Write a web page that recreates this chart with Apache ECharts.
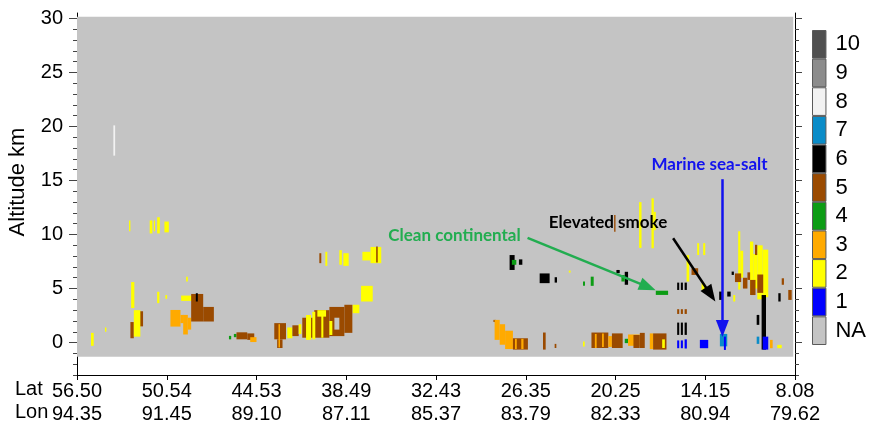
<!DOCTYPE html>
<html><head><meta charset="utf-8">
<script src="https://cdn.jsdelivr.net/npm/echarts@6/dist/echarts.min.js"></script>
<style>html,body{margin:0;padding:0;background:#fff}#c{width:869px;height:428px}</style>
</head><body><div id="c"></div>
<script>
// ---- data ----
const latLabels = ['56.50','50.54','44.53','38.49','32.43','26.35','20.25','14.15','8.08'];
const lonLabels = ['94.35','91.45','89.10','87.11','85.37','83.79','82.33','80.94','79.62'];
const altTicks = [0,5,10,15,20,25,30];
const classNames = ['NA','1','2','3','4','5','6','7','8','9','10'];
const classColors = ['#c4c4c4','#0000ff','#ffff00','#ffaa00','#0c9c14','#9a4a00','#000000','#0a8cc8','#f2f2f2','#8c8c8c','#505050'];
// NA curtain extent: [x0, x1, alt0, alt1, class]
const curtainNA = [[0, 7.98, -1.3, 30.15, 0]];
// aerosol layers: [x0, x1, alt0 (km), alt1 (km), class]
const aerosolLayers = [
[0.405,0.425,17.3,20.1,8],
[0.58,0.595,10.3,11.3,2],[0.81,0.84,10.1,11.3,2],[0.856,0.87,10.3,11.3,2],[0.893,0.923,10.1,11.6,2],[0.974,1.023,10.2,11.2,2],
[0.156,0.186,-0.3,0.9,2],[0.312,0.327,1.0,1.4,2],[0.603,0.639,3.2,5.6,2],
[0.595,0.633,0.4,1.9,5],[0.688,0.736,1.5,2.9,5],[0.633,0.706,0.55,3.0,2],
[0.893,0.918,3.65,4.7,2],[0.985,1.004,4.05,4.4,2],[1.216,1.235,5.65,6.1,2],[1.16,1.283,3.86,4.35,2],
[1.041,1.153,1.48,3.02,3],[1.153,1.19,1.8,2.56,3],[1.183,1.235,0.75,2.56,3],[1.235,1.272,1.2,2.3,3],
[1.272,1.406,1.95,4.5,5],[1.406,1.525,1.95,3.3,5],[1.324,1.346,3.8,4.57,6],
[1.693,1.718,0.3,0.62,4],[1.748,1.777,0.5,0.8,4],[1.777,1.897,0.3,0.95,5],[1.897,1.975,0.25,0.85,5],[1.93,2.0,0.05,0.5,3],
[2.70,2.722,7.35,8.27,5],[2.767,2.789,7.1,8.4,2],[2.923,2.951,7.2,8.55,2],[2.968,3.027,7.1,8.27,2],
[3.18,3.27,7.6,8.4,2],[3.27,3.39,7.35,8.85,2],[3.333,3.351,7.4,8.9,5],
[3.165,3.295,3.8,5.25,2],[3.07,3.146,2.72,3.5,2],
[2.198,2.329,0.3,1.8,5],[2.23,2.29,-0.5,0.3,5],[2.245,2.262,-0.45,1.7,3],
[2.343,2.40,0.4,1.4,2],[2.40,2.47,0.6,1.6,5],[2.47,2.50,0.8,1.7,2],
[2.51,2.644,0.45,2.3,5],[2.644,2.812,0.45,3.0,5],[2.812,2.979,0.6,3.3,5],[2.979,3.068,0.9,3.5,5],
[2.552,2.608,0.25,2.55,2],[2.622,2.655,0.3,2.85,2],[2.722,2.745,0.45,2.85,2],[2.812,2.845,0.7,2.0,2],[2.678,2.775,2.4,3.0,2],
[2.868,2.923,1.2,2.3,0],
[4.82,4.876,6.72,8.1,6],[4.845,4.895,7.2,7.65,4],[4.924,4.962,7.2,7.7,6],
[5.155,5.266,5.5,6.4,6],[5.322,5.348,5.55,6.05,6],[5.48,5.5,6.48,6.66,2],
[5.638,5.66,5.25,5.65,4],[5.724,5.757,5.25,6.1,4],
[6.01,6.047,6.42,6.72,6],[6.103,6.14,5.35,6.55,6],[6.066,6.103,5.65,6.25,4],
[4.64,4.67,1.9,2.1,5],[4.653,4.71,0.25,2.1,3],[4.71,4.77,-0.2,1.7,3],[4.77,4.857,-0.6,1.1,3],
[4.857,5.024,-0.65,0.4,5],[4.88,4.90,-0.6,0.35,3],[4.95,4.975,-0.6,0.35,3],
[5.192,5.222,-0.65,0.93,5],[5.322,5.341,-0.5,-0.12,5],[5.638,5.657,-0.37,0.1,2],
[5.732,5.92,-0.5,0.93,5],[5.77,5.79,-0.5,0.8,3],[5.85,5.87,-0.4,0.85,3],[5.92,5.96,-0.4,0.6,3],
[5.96,6.08,-0.5,0.85,5],[6.103,6.14,-0.05,0.35,4],[6.14,6.27,-0.3,0.75,3],[6.2,6.27,-0.5,0.7,5],
[6.271,6.326,-0.5,0.9,5],[6.382,6.419,-0.6,0.85,3],[6.419,6.568,-0.65,0.85,5],[6.52,6.55,-0.5,0.3,2],
[6.449,6.586,4.41,4.8,4],
[6.687,6.71,4.87,5.55,6],[6.728,6.751,4.87,5.55,6],[6.77,6.795,4.87,5.55,6],
[6.687,6.71,2.65,3.09,5],[6.728,6.751,2.65,3.09,5],[6.77,6.795,2.65,3.09,5],
[6.687,6.71,0.71,1.85,6],[6.728,6.751,0.71,1.85,6],[6.77,6.795,0.71,1.85,6],
[6.687,6.71,-0.52,0.2,1],[6.728,6.751,-0.52,0.2,1],[6.77,6.795,-0.55,0.3,1],
[6.94,7.033,-0.52,0.25,1],
[6.263,6.29,8.76,13.0,2],[6.401,6.427,8.73,13.35,2],[6.427,6.449,10.4,12.1,2],[5.985,6.0,10.25,11.8,5],
[6.91,6.932,8.1,9.2,2],[6.977,7.0,8.1,9.2,2],[6.792,6.821,5.65,8.1,2],[6.847,6.921,6.26,6.88,5],[6.959,6.996,4.87,5.5,2],
[7.155,7.193,3.95,4.72,6],[7.245,7.283,4.26,4.72,6],[7.312,7.334,3.8,4.4,2],
[7.163,7.245,-0.35,0.8,7],[7.208,7.23,-0.68,0.55,1],[7.294,7.319,6.26,6.57,6],
[7.367,7.39,4.9,10.3,2],[7.39,7.423,6.0,8.5,2],
[7.498,7.535,4.5,9.35,2],[7.535,7.58,5.0,8.2,2],[7.58,7.64,4.0,9.0,2],[7.64,7.702,4.2,8.6,2],
[7.554,7.579,8.1,9.05,5],
[7.331,7.40,5.6,6.4,5],[7.42,7.47,5.0,6.0,5],[7.50,7.56,4.4,5.8,5],[7.58,7.646,4.6,6.3,5],[7.47,7.50,5.8,6.5,5],
[7.628,7.677,-0.65,4.4,6],[7.573,7.602,1.64,2.56,6],[7.573,7.602,-0.12,0.55,7],[7.64,7.702,-0.65,0.55,1],
[7.721,7.751,-0.52,0.25,3],[7.802,7.852,-0.52,-0.21,2],[7.852,7.877,5.35,5.95,5],[7.814,7.84,3.8,4.57,6],[7.925,7.963,3.95,4.87,5]
];
// annotations: [text, x, alt, color]
const annoTexts = [
  ['Clean continental', 4.206, 9.87, '#22ad50'],
  ['Elevated smoke', 5.917, 11.12, '#000000'],
  ['Marine sea-salt', 7.048, 16.51, '#1212ee']
];
// arrows: [x0, alt0, x1, alt1, color]
const annoArrows = [
  [5.02, 9.69, 6.36, 5.15, '#22ad50'],
  [6.642, 9.66, 7.06, 4.45, '#000000'],
  [7.191, 15.12, 7.191, 1.3, '#1212ee']
];

// ---- chart ----
const FONT = '"Liberation Sans", Arial, sans-serif';
const minorTicks = [];
for (let v = -3; v <= 30; v++) minorTicks.push(v);

function rectItem(params, api) {
  const p0 = api.coord([api.value(0), api.value(3)]);
  const p1 = api.coord([api.value(1), api.value(2)]);
  return {
    type: 'rect',
    shape: { x: p0[0], y: p0[1], width: Math.max(p1[0] - p0[0], 1), height: Math.max(p1[1] - p0[1], 1) },
    style: { fill: classColors[api.value(4)] }
  };
}

const altAxisBase = { type: 'value', gridIndex: 0, min: -3, max: 30.5, splitLine: { show: false } };

const chart = echarts.init(document.getElementById('c'), null, { renderer: 'canvas' });
chart.setOption({
  animation: false,
  backgroundColor: '#ffffff',
  grid: [
    { left: 77, right: 74, top: 13, bottom: 53 },
    { left: 812, top: 30, width: 17, height: 315 }
  ],
  xAxis: [
    {
      type: 'value', gridIndex: 0, min: 0, max: 8, interval: 1,
      axisLine: { onZero: false, lineStyle: { color: '#000', width: 1 } },
      axisTick: { length: 5, lineStyle: { color: '#000' } },
      splitLine: { show: false },
      axisLabel: {
        margin: 5, fontSize: 20, lineHeight: 23, color: '#000', fontFamily: FONT,
        formatter: v => latLabels[Math.round(v)] + '\n' + lonLabels[Math.round(v)]
      }
    },
    { type: 'value', gridIndex: 1, min: 0, max: 1, show: false }
  ],
  yAxis: [
    Object.assign({}, altAxisBase, {
      position: 'left',
      axisLine: { show: true, onZero: false, lineStyle: { color: '#000' } },
      axisTick: { show: true, length: 8, customValues: altTicks, lineStyle: { color: '#444' } },
      axisLabel: { customValues: altTicks, fontSize: 20, color: '#000', margin: 14, fontFamily: FONT }
    }),
    Object.assign({}, altAxisBase, {
      position: 'left',
      axisLine: { show: false, onZero: false },
      axisTick: { show: true, length: 4, customValues: minorTicks, lineStyle: { color: '#444' } },
      axisLabel: { show: false }
    }),
    Object.assign({}, altAxisBase, {
      position: 'right',
      axisLine: { show: true, onZero: false, lineStyle: { color: '#000' } },
      axisTick: { show: true, length: 7, customValues: altTicks, lineStyle: { color: '#444' } },
      axisLabel: { show: false }
    }),
    Object.assign({}, altAxisBase, {
      position: 'right',
      axisLine: { show: false, onZero: false },
      axisTick: { show: true, length: 4, customValues: minorTicks, lineStyle: { color: '#444' } },
      axisLabel: { show: false }
    }),
    {
      type: 'category', gridIndex: 1, data: classNames, position: 'right',
      axisLine: { show: false }, axisTick: { show: false },
      axisLabel: { fontSize: 22, color: '#000', margin: 9, fontFamily: FONT }
    }
  ],
  series: [
    {
      type: 'custom', name: 'NA', xAxisIndex: 0, yAxisIndex: 0, z: 1,
      renderItem: rectItem, encode: { x: [0, 1], y: [2, 3] }, data: curtainNA, silent: true
    },
    {
      type: 'custom', name: 'aerosol', xAxisIndex: 0, yAxisIndex: 0, z: 2,
      renderItem: rectItem, encode: { x: [0, 1], y: [2, 3] }, data: aerosolLayers, silent: true
    },
    {
      type: 'custom', name: 'annotations', xAxisIndex: 0, yAxisIndex: 0, z: 5,
      renderItem: () => null, data: [], silent: true,
      markLine: {
        silent: true, animation: false,
        symbol: ['none', 'triangle'], symbolSize: [13, 17],
        label: { show: false },
        data: annoArrows.map(a => [
          { coord: [a[0], a[1]], lineStyle: { color: a[4], width: 2.5, type: 'solid' }, itemStyle: { color: a[4] } },
          { coord: [a[2], a[3]] }
        ])
      },
      markPoint: {
        silent: true, animation: false,
        symbol: 'rect', symbolSize: 1,
        data: annoTexts.map(t => ({
          coord: [t[1], t[2]],
          itemStyle: { color: 'rgba(0,0,0,0)' },
          label: { show: true, position: 'inside', formatter: t[0], color: t[3], fontSize: 17, fontWeight: 'bold', fontFamily: 'Lato, sans-serif' }
        }))
      }
    },
    {
      type: 'bar', xAxisIndex: 1, yAxisIndex: 4, barWidth: '100%', silent: true,
      itemStyle: { borderColor: '#5a5a5a', borderWidth: 1 },
      data: classColors.map(c => ({ value: 1, itemStyle: { color: c } }))
    }
  ],
  graphic: [
    { type: 'text', left: 15, top: 379, style: { text: 'Lat', fill: '#000', font: '20px "Liberation Sans", Arial, sans-serif' } },
    { type: 'text', left: 15, top: 402, style: { text: 'Lon', fill: '#000', font: '20px "Liberation Sans", Arial, sans-serif' } },
    { type: 'text', x: 18, y: 182, rotation: Math.PI / 2,
      style: { text: 'Altitude km', font: '22px "Liberation Sans", Arial, sans-serif', fill: '#000', align: 'center', verticalAlign: 'middle' } }
  ]
});
</script></body></html>
